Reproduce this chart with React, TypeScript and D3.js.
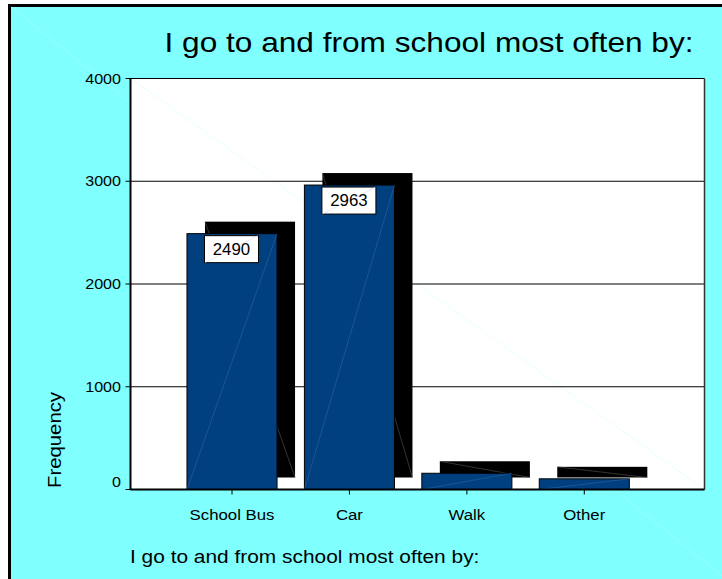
import React, { useEffect } from "react";
import * as d3 from "d3";

const categories = ["School Bus", "Car", "Walk", "Other"];
const frequencies = [2490, 2963, 158, 104];
const yTicks = [0, 1000, 2000, 3000, 4000];
const titleText = "I go to and from school most often by:";
const yAxisLabel = "Frequency";

const W = 722;
const H = 579;
const FONT = "'Liberation Sans', Arial, Helvetica, sans-serif";
const STRETCH = 1.13;

const plot = { left: 130.5, right: 704.5, top: 78.5, bottom: 489.5 };
const depth = { dx: 18, dy: -12 };

function Txt({
  x,
  y,
  size,
  anchor = "start",
  rotate = 0,
  sx = STRETCH,
  children,
}: {
  x: number;
  y: number;
  size: number;
  anchor?: string;
  rotate?: number;
  sx?: number;
  children: React.ReactNode;
}) {
  return (
    <text
      transform={`translate(${x},${y}) rotate(${rotate}) scale(${sx},1)`}
      fontSize={size}
      fontFamily={FONT}
      textAnchor={anchor}
      fill="#000"
    >
      {children}
    </text>
  );
}

export default function App() {
  useEffect(() => {
    document.body.style.margin = "0";
  }, []);

  const y = d3.scaleLinear().domain([0, 4000]).range([plot.bottom, plot.top]);
  const x = d3
    .scaleBand<string>()
    .domain(categories)
    .range([173.3, 643])
    .paddingInner(0.233)
    .paddingOuter(0.1165);
  const bw = x.bandwidth();

  return (
    <svg width={W} height={H} style={{ display: "block" }}>
      {/* outer frame */}
      <rect x={0} y={0} width={W} height={H} fill="#fff" />
      <rect x={9.5} y={5.5} width={W + 10} height={H + 10} fill="#80ffff" stroke="#000" strokeWidth={3} />
      <line x1={11} y1={7} x2={W} y2={7 + 0.8 * (W - 11)} stroke="#a8ffff" strokeWidth={0.6} />

      <Txt x={429} y={52} size={28} anchor="middle">
        {titleText}
      </Txt>

      {/* plot area */}
      <rect
        x={plot.left}
        y={plot.top}
        width={plot.right - plot.left}
        height={plot.bottom - plot.top}
        fill="#fff"
      />
      <line
        x1={plot.left}
        y1={plot.top}
        x2={plot.right}
        y2={plot.bottom}
        stroke="#d8ffff"
        strokeWidth={0.6}
      />
      {yTicks.map((t) => (
        <g key={t}>
          <line x1={plot.left - 5} x2={plot.right} y1={y(t)} y2={y(t)} stroke="#000" strokeWidth={1} />
          <Txt x={121} y={y(t) + 5 - (t === 0 ? 8 : 0)} size={14} anchor="end" sx={1.15}>
            {t}
          </Txt>
        </g>
      ))}
      <line x1={plot.right} x2={plot.right} y1={plot.top} y2={plot.bottom} stroke="#333" strokeWidth={1.5} />

      {/* depth shadows */}
      {categories.map((c, i) => {
        const x0 = (x(c) ?? 0) + depth.dx;
        const y0 = y(frequencies[i]) + depth.dy;
        const y1 = plot.bottom + depth.dy;
        return (
          <g key={c + "-s"}>
            <rect x={x0} y={y0} width={bw} height={y1 - y0} fill="#000" />
            <line x1={x0} y1={y0} x2={x0 + bw} y2={y1} stroke="#555" strokeWidth={0.6} />
          </g>
        );
      })}

      {/* bars */}
      {categories.map((c, i) => {
        const x0 = x(c) ?? 0;
        const y0 = y(frequencies[i]);
        return (
          <g key={c}>
            <rect
              x={x0}
              y={y0}
              width={bw}
              height={plot.bottom - y0}
              fill="#00407f"
              stroke="#000"
              strokeWidth={1}
            />
            <line x1={x0} y1={plot.bottom} x2={x0 + bw} y2={y0} stroke="#2f63a3" strokeWidth={0.6} />
          </g>
        );
      })}

      {/* axes */}
      <line x1={plot.left} x2={plot.left} y1={plot.top} y2={plot.bottom} stroke="#000" strokeWidth={2} />
      <line x1={plot.left} x2={plot.right} y1={plot.bottom} y2={plot.bottom} stroke="#000" strokeWidth={2} />
      {categories.map((c) => {
        const cx = (x(c) ?? 0) + bw / 2;
        return (
          <g key={c + "-t"}>
            <line x1={cx} x2={cx} y1={plot.bottom} y2={plot.bottom + 5} stroke="#000" strokeWidth={1} />
            <Txt x={cx} y={520} size={15} anchor="middle" sx={1.12}>
              {c}
            </Txt>
          </g>
        );
      })}

      {/* value labels */}
      {categories.map((c, i) => {
        if (frequencies[i] < 1000) return null;
        const bx = (x(c) ?? 0) + depth.dx;
        const by = y(frequencies[i]) + 2;
        return (
          <g key={c + "-l"}>
            <rect x={bx - 0.5} y={by} width={54} height={27} fill="#fff" stroke="#000" strokeWidth={1} />
            <line x1={bx} y1={by + 27} x2={bx + 53} y2={by} stroke="#d0d8f4" strokeWidth={0.6} />
            <Txt x={bx + 26.5} y={by + 19} size={16.5} anchor="middle" sx={1.02}>
              {frequencies[i]}
            </Txt>
          </g>
        );
      })}

      <Txt x={61} y={440} size={18} anchor="middle" rotate={-90}>
        {yAxisLabel}
      </Txt>

      <Txt x={130} y={563} size={18.5}>
        {titleText}
      </Txt>
    </svg>
  );
}
